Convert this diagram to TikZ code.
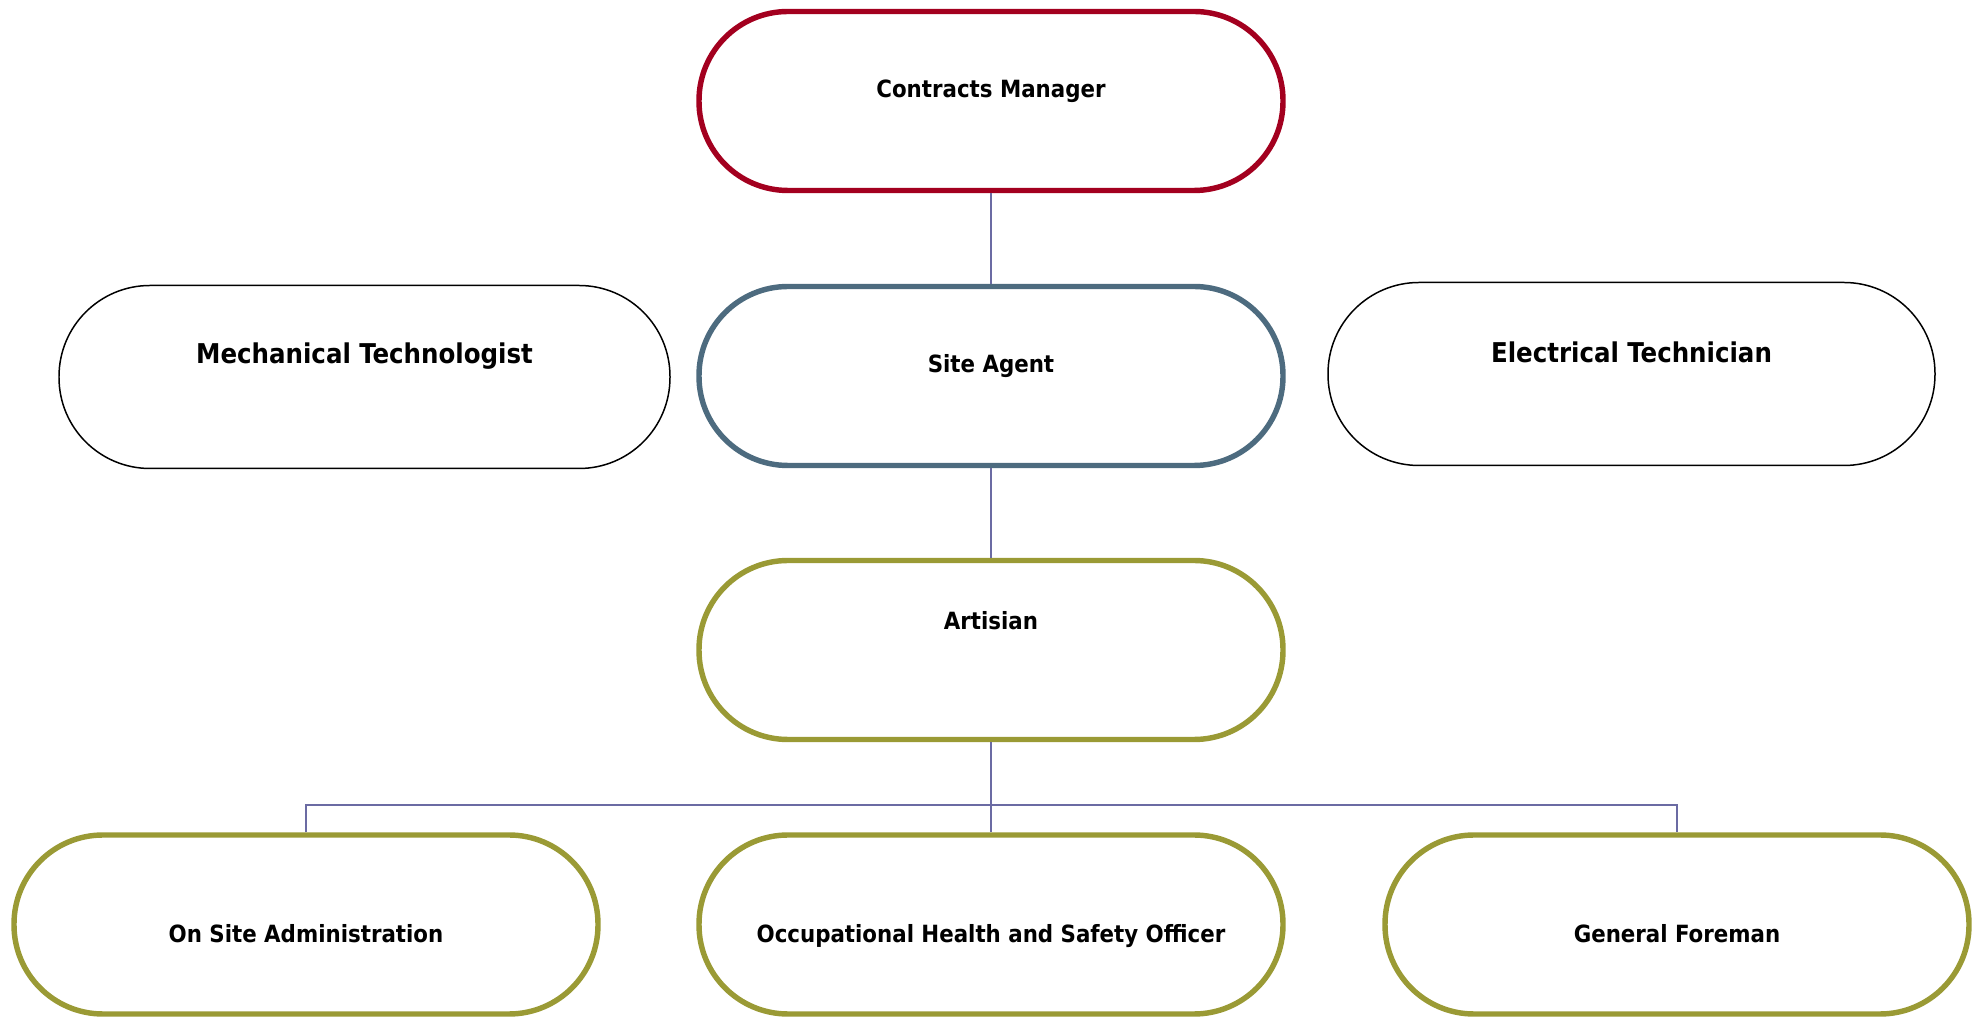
\documentclass[tikz,border=0pt]{standalone}
\usepackage{fontspec}
\setmainfont{DejaVu Sans Condensed}
\usetikzlibrary{positioning}

\definecolor{crimson}{HTML}{A3001F}
\definecolor{steel}{HTML}{4D6B7F}
\definecolor{olive}{HTML}{9A9A35}
\definecolor{linkc}{HTML}{6B6BA3}

\begin{document}
\begin{tikzpicture}[every node/.style={font=\bfseries\fontsize{13.5}{16}\selectfont, align=center},
    role/.style={draw=#1, line width=3.1pt, rectangle, rounded corners=1.78cm, minimum width=11.68cm, minimum height=3.58cm},
    side/.style={draw=black, line width=0.85pt, rectangle, rounded corners=1.82cm, minimum height=3.66cm, font=\bfseries\fontsize{15.5}{18}\selectfont},
    link/.style={draw=linkc, line width=0.85pt}]
    \useasboundingbox (0,0) rectangle (39.54,20.38);

    \node[role=crimson, text depth=0.48cm] (cm) at (19.82,18.36) {Contracts Manager};
    \node[role=steel, text depth=0.52cm] (sa) at (19.82,12.86) {Site Agent};
    \node[side, minimum width=12.22cm, text depth=0.96cm] (mech) at (7.29,12.84) {Mechanical Technologist};
    \node[side, minimum width=12.14cm, text depth=0.88cm] (elec) at (32.63,12.90) {Electrical Technician};
    \node[role=olive, text depth=1.2cm] (art) at (19.82,7.38) {Artisian};

    \node[role=olive, text height=0.73cm, text depth=0pt] (osa) at (6.12,1.89) {On Site Administration};
    \node[role=olive, text height=0.73cm, text depth=0pt] (ohs) at (19.82,1.89) {Occupational Health and Safety Officer};
    \node[role=olive, text height=0.73cm, text depth=0pt] (gf) at (33.54,1.89) {General Foreman};

    \coordinate (bus) at (19.82,4.28);
    \draw[link] (cm) -- (sa);
    \draw[link] (sa) -- (art);
    \draw[link] (art) -- (ohs);
    \draw[link] (osa.north) |- (bus) -| (gf.north);
\end{tikzpicture}
\end{document}
